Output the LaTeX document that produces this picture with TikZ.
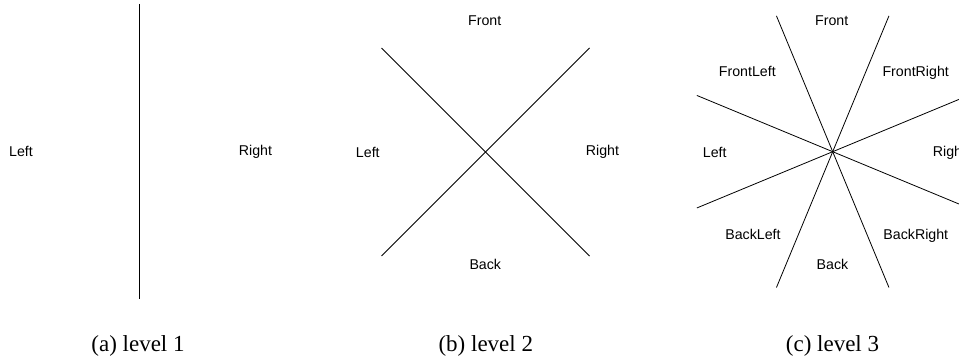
\documentclass[tikz,border=0pt]{standalone}
\usepackage{fontspec}
\setmainfont{Liberation Serif}
\setsansfont{Liberation Sans}
\usetikzlibrary{calc}
\begin{document}
\begin{tikzpicture}[x=1pt,y=-1pt,
  lbl/.style={font=\sffamily\fontsize{14.2}{16}\selectfont,inner sep=0pt,anchor=base},
  captxt/.style={font=\rmfamily\fontsize{23}{26}\selectfont,inner sep=0pt,anchor=base},
  divline/.style={line width=0.8pt,black}]
\clip (0,0) rectangle (959,361);
% panel a
\coordinate (ca) at (139,151.5);
\coordinate (a1) at (139,4);
\coordinate (a2) at (139,299);
\draw[divline] (a1) -- (a2);
\node[lbl] (aL) at (21,156) {Left};
\node[lbl] (aR) at (255.5,155.5) {Right};
\node[captxt] (capa) at (138,351.5) {(a) level 1};
% panel b
\coordinate (cb) at (485.5,152);
\coordinate (b1) at ($(cb)+(-104,-104)$);
\coordinate (b2) at ($(cb)+(104,104)$);
\coordinate (b3) at ($(cb)+(104,-104)$);
\coordinate (b4) at ($(cb)+(-104,104)$);
\draw[divline] (b1) -- (b2);
\draw[divline] (b3) -- (b4);
\node[lbl] (bF) at (484.7,25.3) {Front};
\node[lbl] (bL) at (367.8,157) {Left};
\node[lbl] (bR) at (602.5,155) {Right};
\node[lbl] (bB) at (485.3,269.5) {Back};
\node[captxt] (capb) at (485.8,351.5) {(b) level 2};
% panel c
\coordinate (cc) at (832.7,151.7);
\foreach \a in {22.5,67.5,112.5,157.5} {
  \draw[divline] ($(cc)+(\a:147)$) -- ($(cc)+(\a+180:147)$);
}
\node[lbl] (cF) at (831.7,25.3) {Front};
\node[lbl] (cFL) at (747.3,76.3) {FrontLeft};
\node[lbl] (cFR) at (915.7,76.3) {FrontRight};
\node[lbl] (cL) at (714.7,157) {Left};
\node[lbl,anchor=base west] (cR) at (932.7,156) {Right};
\node[lbl] (cBL) at (753,239.5) {BackLeft};
\node[lbl] (cBR) at (915.8,239.5) {BackRight};
\node[lbl] (cB) at (832.5,269.5) {Back};
\node[captxt] (capc) at (832.5,351.5) {(c) level 3};
\end{tikzpicture}
\end{document}
